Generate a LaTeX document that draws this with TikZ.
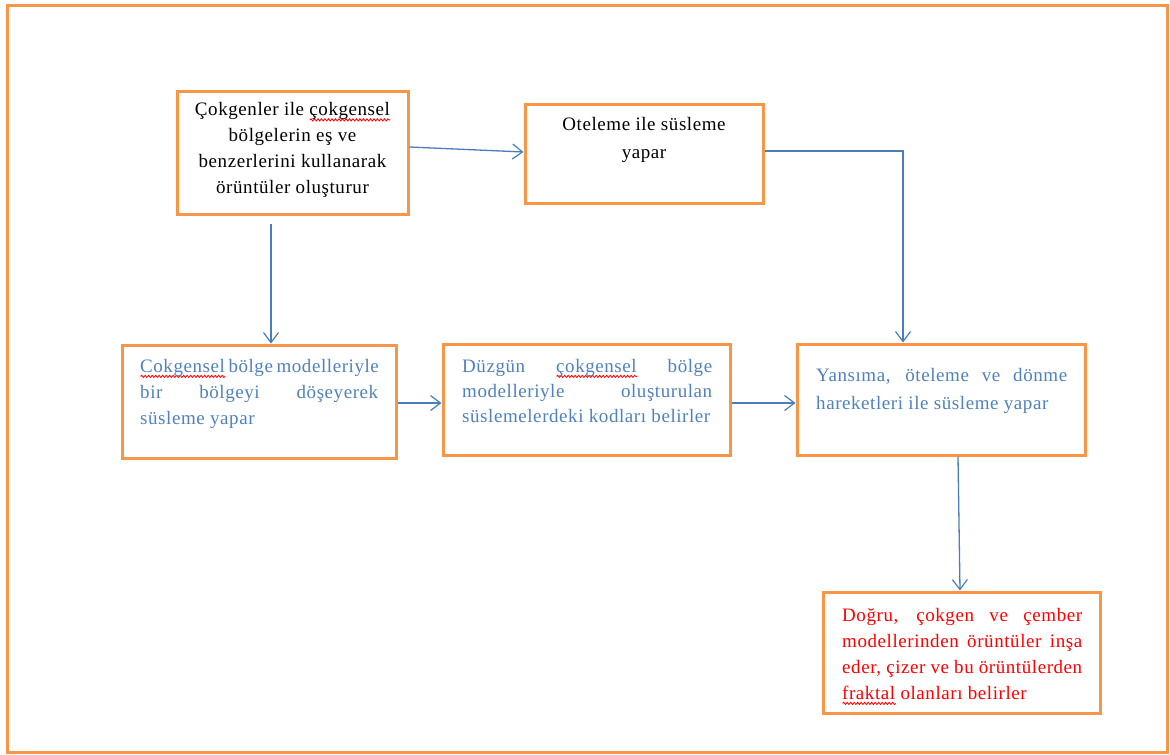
\documentclass[tikz,border=0pt]{standalone}
\usepackage{fontspec}
\setmainfont{Liberation Serif}[LetterSpace=3.0]
\usetikzlibrary{arrows.meta,calc,decorations.pathmorphing}

\definecolor{frameorange}{HTML}{F79646}
\definecolor{linkblue}{HTML}{4A7EBB}
\definecolor{textblue}{HTML}{4F81BD}
\definecolor{textred}{HTML}{FF0000}

% red wavy spell-check underline
\newsavebox\wavebox
\newlength\wavelen
\newcommand\spellwave[1]{\sbox\wavebox{#1}\setlength\wavelen{\wd\wavebox}%
  \rlap{\tikz[baseline=0pt]\draw[textred,line width=0.8pt,decorate,
    decoration={snake,amplitude=1.1pt,segment length=3.5pt}]
    (0pt,-4pt) -- (\wavelen,-4pt);}\usebox\wavebox}
% a line stretched to the full given width
\newcommand\jline[2]{\makebox[#1][s]{#2}}

\begin{document}
\begin{tikzpicture}[x=1pt,y=-1pt,
  box/.style={draw=frameorange,line width=3pt,inner sep=0pt},
  label/.style={inner sep=0pt,font=\fontsize{19}{26}\selectfont},
  arr/.style={draw=linkblue,line width=1.3pt,-{Straight Barb[length=10pt,width=15pt,line width=1.2pt]}}]

\useasboundingbox (0,0) rectangle (1170,755);

% outer frame
\draw[frameorange,line width=3pt] (7,5) rectangle (1167.5,752.5);

% boxes
\node[box,minimum width=231pt,minimum height=123pt] (a) at (292.5,152.5) {};
\node[box,minimum width=238pt,minimum height=99pt]  (b) at (644,153.5) {};
\node[box,minimum width=274pt,minimum height=113pt] (c) at (259,401.5) {};
\node[box,minimum width=287pt,minimum height=111pt] (d) at (586.5,399.5) {};
\node[box,minimum width=288pt,minimum height=111pt] (e) at (941,399.5) {};
\node[box,minimum width=277pt,minimum height=121pt] (f) at (961.5,652.5) {};

% texts
\node[label,anchor=north,align=center] (ta) at ($(a.north)+(0,13)$)
  {Çokgenler ile \spellwave{çokgensel}\\bölgelerin eş ve\\benzerlerini kullanarak\\örüntüler oluşturur};
\node[label,anchor=north,align=center,font=\fontsize{19}{28}\selectfont] (tb) at ($(b.north)+(0,15)$)
  {Oteleme ile süsleme\\yapar};
\node[label,anchor=north west,align=left,text=textblue] (tc) at (140,359)
  {\jline{238pt}{\spellwave{Cokgensel} bölge modelleriyle}\\
   \jline{238pt}{bir bölgeyi döşeyerek}\\
   süsleme yapar};
\node[label,anchor=north west,align=left,text=textblue,font=\fontsize{19}{25}\selectfont] (td) at (462,359)
  {\jline{250pt}{Düzgün \spellwave{çokgensel} bölge}\\
   \jline{250pt}{modelleriyle oluşturulan}\\
   süslemelerdeki kodları belirler};
\node[label,anchor=north west,align=left,text=textblue,font=\fontsize{19}{28}\selectfont] (te) at (816,368)
  {\jline{251pt}{Yansıma, öteleme ve dönme}\\
   hareketleri ile süsleme yapar};
\node[label,anchor=north west,align=left,text=textred] (tf) at (842,608)
  {\jline{240pt}{Doğru, çokgen ve çember}\\
   \jline{240pt}{modellerinden örüntüler inşa}\\
   \jline{240pt}{eder, çizer ve bu örüntülerden}\\
   \spellwave{fraktal} olanları belirler};

% connectors
\coordinate (acstart) at (271,224);
\draw[arr] ($(a.east)+(0,-5.5)$) -- ($(b.west)+(0,-1.5)$);
\draw[arr] (acstart) -- (acstart |- c.north);
\draw[arr] ($(b.east)+(0,-2.5)$) -| ([xshift=-38pt]e.north);
\draw[arr] (c.east |- 0,403) -- (d.west |- 0,403);
\draw[arr] (d.east |- 0,403) -- (e.west |- 0,403);
\draw[arr] ([xshift=17pt]e.south) -- ([xshift=-1.5pt]f.north);
\end{tikzpicture}
\end{document}
